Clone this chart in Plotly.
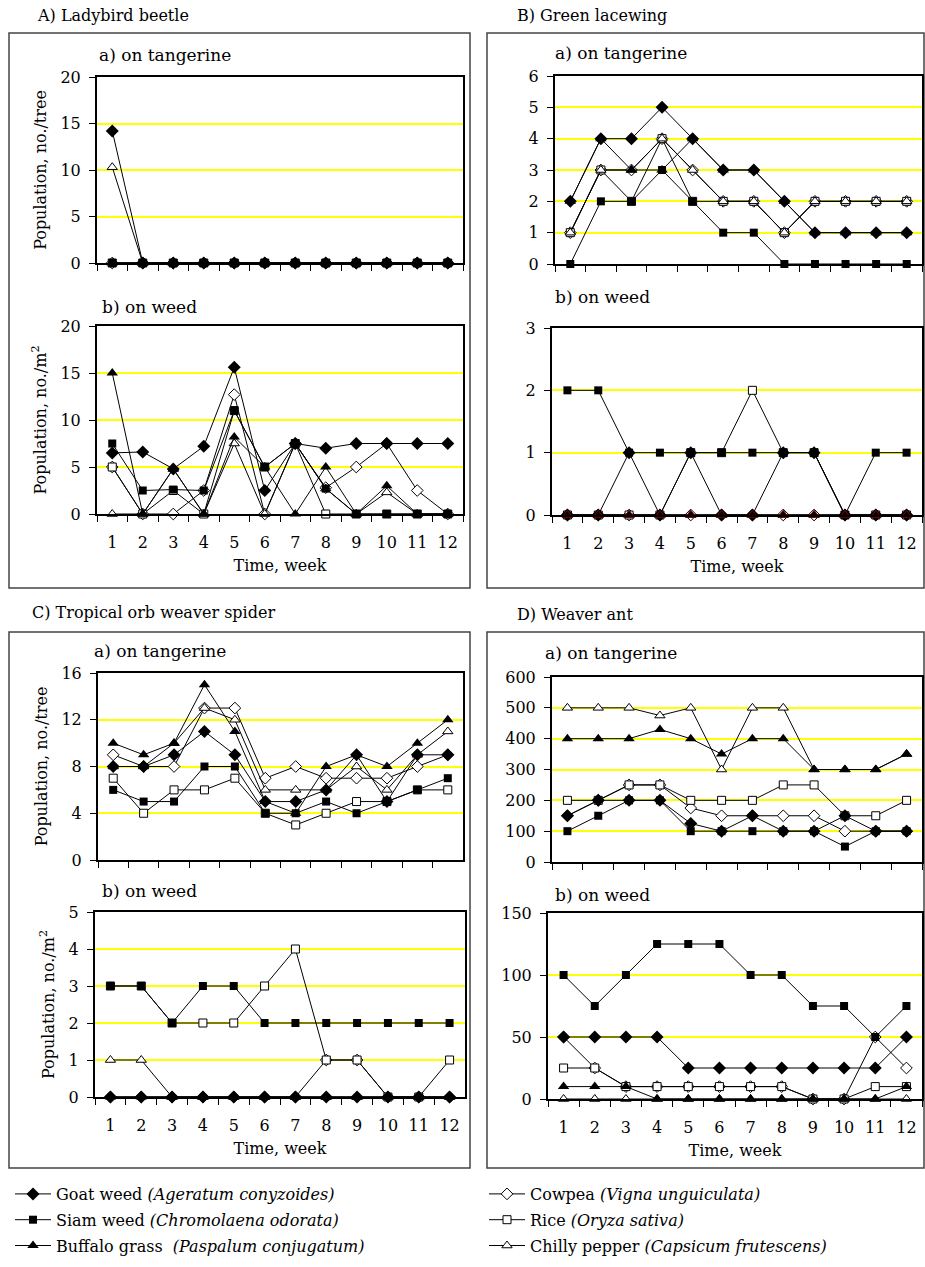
import plotly.graph_objects as go

W, H = 925, 1267

weeks = [str(i) for i in range(1, 13)]

series_names = [
    "Goat weed <i>(Ageratum conyzoides)</i>",
    "Siam weed <i>(Chromolaena odorata)</i>",
    "Buffalo grass  <i>(Paspalum conjugatum)</i>",
    "Cowpea <i>(Vigna unguiculata)</i>",
    "Rice <i>(Oryza sativa)</i>",
    "Chilly pepper <i>(Capsicum frutescens)</i>",
]

# ---- A) Ladybird beetle ----
ladybird_tangerine_goat    = [14.2, 0, 0, 0, 0, 0, 0, 0, 0, 0, 0, 0]
ladybird_tangerine_siam    = [0, 0, 0, 0, 0, 0, 0, 0, 0, 0, 0, 0]
ladybird_tangerine_buffalo = [0, 0, 0, 0, 0, 0, 0, 0, 0, 0, 0, 0]
ladybird_tangerine_cowpea  = [0, 0, 0, 0, 0, 0, 0, 0, 0, 0, 0, 0]
ladybird_tangerine_rice    = [0, 0, 0, 0, 0, 0, 0, 0, 0, 0, 0, 0]
ladybird_tangerine_chilly  = [10.3, 0, 0, 0, 0, 0, 0, 0, 0, 0, 0, 0]

ladybird_weed_goat    = [6.5, 6.6, 4.8, 7.2, 15.6, 2.5, 7.5, 7.0, 7.5, 7.5, 7.5, 7.5]
ladybird_weed_siam    = [7.5, 2.5, 2.6, 2.5, 11.0, 5.0, 7.5, 2.7, 0, 0, 0, 0]
ladybird_weed_buffalo = [15.0, 0, 4.8, 0, 8.2, 5.0, 0, 5.0, 0, 3.0, 0, 0]
ladybird_weed_cowpea  = [5.0, 0, 0, 2.5, 12.7, 0, 7.5, 2.8, 5.0, 7.5, 2.5, 0]
ladybird_weed_rice    = [5.0, 0, 2.5, 0, 11.0, 5.0, 7.5, 0, 0, 0, 0, 0]
ladybird_weed_chilly  = [0, 0, 4.8, 0, 7.5, 0, 7.5, 2.7, 0, 2.3, 0, 0]

# ---- B) Green lacewing ----
lacewing_tangerine_goat    = [2, 4, 4, 5, 4, 3, 3, 2, 1, 1, 1, 1]
lacewing_tangerine_siam    = [0, 2, 2, 3, 2, 1, 1, 0, 0, 0, 0, 0]
lacewing_tangerine_buffalo = [2, 4, 3, 3, 4, 3, 3, 2, 1, 1, 1, 1]
lacewing_tangerine_cowpea  = [1, 3, 3, 4, 3, 2, 2, 1, 2, 2, 2, 2]
lacewing_tangerine_rice    = [1, 3, 2, 4, 2, 2, 2, 1, 2, 2, 2, 2]
lacewing_tangerine_chilly  = [1, 3, 3, 4, 3, 2, 2, 1, 2, 2, 2, 2]

lacewing_weed_goat    = [0, 0, 1, 0, 1, 0, 0, 1, 1, 0, 0, 0]
lacewing_weed_siam    = [2, 2, 1, 1, 1, 1, 1, 1, 1, 0, 1, 1]
lacewing_weed_buffalo = [0, 0, 0, 0, 0, 0, 0, 0, 0, 0, 0, 0]
lacewing_weed_cowpea  = [0, 0, 0, 0, 0, 0, 0, 0, 0, 0, 0, 0]
lacewing_weed_rice    = [0, 0, 0, 0, 1, 1, 2, 1, 1, 0, 0, 0]
lacewing_weed_chilly  = [0, 0, 0, 0, 0, 0, 0, 0, 0, 0, 0, 0]

# ---- C) Tropical orb weaver spider ----
spider_tangerine_goat    = [8, 8, 9, 11, 9, 5, 5, 6, 9, 5, 9, 9]
spider_tangerine_siam    = [6, 5, 5, 8, 8, 4, 4, 5, 4, 5, 6, 7]
spider_tangerine_buffalo = [10, 9, 10, 15, 11, 5, 4, 8, 9, 8, 10, 12]
spider_tangerine_cowpea  = [9, 8, 8, 13, 13, 7, 8, 7, 7, 7, 8, 9]
spider_tangerine_rice    = [7, 4, 6, 6, 7, 4, 3, 4, 5, 5, 6, 6]
spider_tangerine_chilly  = [8, 8, 10, 13, 12, 6, 6, 6, 8, 6, 9, 11]

spider_weed_goat    = [0, 0, 0, 0, 0, 0, 0, 0, 0, 0, 0, 0]
spider_weed_siam    = [3, 3, 2, 3, 3, 2, 2, 2, 2, 2, 2, 2]
spider_weed_buffalo = [0, 0, 0, 0, 0, 0, 0, 0, 0, 0, 0, 0]
spider_weed_cowpea  = [0, 0, 0, 0, 0, 0, 0, 1, 1, 0, 0, 0]
spider_weed_rice    = [3, 3, 2, 2, 2, 3, 4, 1, 1, 0, 0, 1]
spider_weed_chilly  = [1, 1, 0, 0, 0, 0, 0, 0, 0, 0, 0, 0]

# ---- D) Weaver ant ----
ant_tangerine_goat    = [150, 200, 200, 200, 125, 100, 150, 100, 100, 150, 100, 100]
ant_tangerine_siam    = [100, 150, 200, 200, 100, 100, 100, 100, 100, 50, 100, 100]
ant_tangerine_buffalo = [400, 400, 400, 430, 400, 350, 400, 400, 300, 300, 300, 350]
ant_tangerine_cowpea  = [150, 200, 250, 250, 175, 150, 150, 150, 150, 100, 100, 100]
ant_tangerine_rice    = [200, 200, 250, 250, 200, 200, 200, 250, 250, 150, 150, 200]
ant_tangerine_chilly  = [500, 500, 500, 475, 500, 300, 500, 500, 300, 300, 300, 350]

ant_weed_goat    = [50, 50, 50, 50, 25, 25, 25, 25, 25, 25, 25, 50]
ant_weed_siam    = [100, 75, 100, 125, 125, 125, 100, 100, 75, 75, 50, 75]
ant_weed_buffalo = [10, 10, 10, 0, 0, 0, 0, 0, 0, 0, 0, 10]
ant_weed_cowpea  = [50, 25, 10, 10, 10, 10, 10, 10, 0, 0, 50, 25]
ant_weed_rice    = [25, 25, 10, 10, 10, 10, 10, 10, 0, 0, 10, 10]
ant_weed_chilly  = [0, 0, 0, 0, 0, 0, 0, 0, 0, 0, 0, 0]

FONT = "DejaVu Serif"
FS = 16

styles = [
    dict(symbol="diamond", size=10, color="black", line=dict(color="black", width=0)),
    dict(symbol="square", size=8, color="black", line=dict(color="black", width=0)),
    dict(symbol="triangle-up", size=10, color="black", line=dict(color="black", width=0)),
    dict(symbol="diamond", size=9, color="white", line=dict(color="black", width=1)),
    dict(symbol="square", size=8, color="white", line=dict(color="black", width=1)),
    dict(symbol="triangle-up", size=9, color="white", line=dict(color="black", width=1)),
]
legend_of = ["legend", "legend", "legend", "legend2", "legend2", "legend2"]
legend_rank = [1, 2, 3, 1, 2, 3]
draw_order = [3, 4, 5, 0, 1, 2]

panels = [
    dict(data=[ladybird_tangerine_goat, ladybird_tangerine_siam, ladybird_tangerine_buffalo,
               ladybird_tangerine_cowpea, ladybird_tangerine_rice, ladybird_tangerine_chilly],
         box=(97, 463, 77, 263), ymax=20, dtick=5, ytitle="Population, no./tree",
         xlabels=False, sub="a) on tangerine", subpos=(97, 55), order=[3, 4, 5, 0, 2, 1]),
    dict(data=[ladybird_weed_goat, ladybird_weed_siam, ladybird_weed_buffalo,
               ladybird_weed_cowpea, ladybird_weed_rice, ladybird_weed_chilly],
         box=(97, 463, 326, 514), ymax=20, dtick=5, ytitle="Population, no./m<sup>2</sup>",
         xlabels=True, sub="b) on weed", subpos=(100, 307)),
    dict(data=[lacewing_tangerine_goat, lacewing_tangerine_siam, lacewing_tangerine_buffalo,
               lacewing_tangerine_cowpea, lacewing_tangerine_rice, lacewing_tangerine_chilly],
         box=(555, 922, 76, 264), ymax=6, dtick=1, ytitle=None,
         xlabels=False, sub="a) on tangerine", subpos=(553, 53)),
    dict(data=[lacewing_weed_goat, lacewing_weed_siam, lacewing_weed_buffalo,
               lacewing_weed_cowpea, lacewing_weed_rice, lacewing_weed_chilly],
         box=(552, 922, 328, 515), ymax=3, dtick=1, ytitle=None,
         xlabels=True, sub="b) on weed", subpos=(553, 297)),
    dict(data=[spider_tangerine_goat, spider_tangerine_siam, spider_tangerine_buffalo,
               spider_tangerine_cowpea, spider_tangerine_rice, spider_tangerine_chilly],
         box=(98, 463, 673, 860), ymax=16, dtick=4, ytitle="Population, no./tree",
         xlabels=False, sub="a) on tangerine", subpos=(92, 651)),
    dict(data=[spider_weed_goat, spider_weed_siam, spider_weed_buffalo,
               spider_weed_cowpea, spider_weed_rice, spider_weed_chilly],
         box=(95, 465, 912, 1097), ymax=5, dtick=1, ytitle="Population, no./m<sup>2</sup>",
         xlabels=True, sub="b) on weed", subpos=(100, 891)),
    dict(data=[ant_tangerine_goat, ant_tangerine_siam, ant_tangerine_buffalo,
               ant_tangerine_cowpea, ant_tangerine_rice, ant_tangerine_chilly],
         box=(552, 922, 677, 862), ymax=600, dtick=100, ytitle=None,
         xlabels=False, sub="a) on tangerine", subpos=(543, 653)),
    dict(data=[ant_weed_goat, ant_weed_siam, ant_weed_buffalo,
               ant_weed_cowpea, ant_weed_rice, ant_weed_chilly],
         box=(548, 922, 913, 1099), ymax=150, dtick=50, ytitle=None,
         xlabels=True, sub="b) on weed", subpos=(553, 895)),
]

headers = [
    ("A) Ladybird beetle", 35, 15),
    ("B) Green lacewing", 515, 15),
    ("C) Tropical orb weaver spider", 30, 612),
    ("D) Weaver ant", 515, 615),
]

frames = [(9, 470, 33, 588), (487, 924, 33, 588), (9, 470, 632, 1168), (487, 924, 632, 1168)]


def px(x):
    return x / W


def py(y):
    return 1 - y / H


legend_common = dict(orientation="v", yanchor="top", xanchor="left",
                     itemwidth=36, font=dict(family=FONT, size=FS, color="black"),
                     bgcolor="rgba(0,0,0,0)", traceorder="grouped", tracegroupgap=2)

fig = go.Figure()
layout = dict(
    width=W, height=H, margin=dict(l=0, r=0, t=0, b=0, autoexpand=False),
    paper_bgcolor="white", plot_bgcolor="white",
    font=dict(family=FONT, size=FS, color="black"),
    showlegend=True,
    legend=dict(x=px(10), y=py(1177), **legend_common),
    legend2=dict(x=px(484), y=py(1177), **legend_common),
)
annotations = []
shapes = []

for i, p in enumerate(panels, start=1):
    xk = "xaxis" if i == 1 else f"xaxis{i}"
    yk = "yaxis" if i == 1 else f"yaxis{i}"
    xr = "x" if i == 1 else f"x{i}"
    yr = "y" if i == 1 else f"y{i}"
    x0, x1, y0, y1 = p["box"]
    order = p.get("order", draw_order)
    for s in order:
        st = dict(styles[s])
        st["line"] = dict(st["line"])
        if i == 4 and s == 2:
            st["line"] = dict(color="#8B0000", width=1)
            st["size"] = 9
        fig.add_trace(go.Scatter(
            x=weeks, y=p["data"][s], mode="lines+markers",
            name=series_names[s], legend=legend_of[s], legendrank=legend_rank[s],
            legendgroup=f"s{s}", showlegend=(i == 1),
            line=dict(color="black", width=1),
            marker=st, cliponaxis=False,
            xaxis=xr, yaxis=yr,
        ))
    xa = dict(
        domain=[px(x0), px(x1)], anchor=yr, type="category",
        categoryorder="array", categoryarray=weeks, range=[-0.5, 11.5],
        tickson="boundaries", ticks="outside", ticklen=6, tickwidth=1, tickcolor="black",
        showline=True, mirror=True, linewidth=2, linecolor="black",
        showgrid=False, zeroline=False, showticklabels=p["xlabels"],
        tickfont=dict(family=FONT, size=FS), ticklabelstandoff=13,
    )
    if p["xlabels"]:
        xa["title"] = dict(text="Time, week", font=dict(family=FONT, size=FS), standoff=9)
    ya = dict(
        domain=[py(y1), py(y0)], anchor=xr, range=[0, p["ymax"]], dtick=p["dtick"], tick0=0,
        ticks="outside", ticklen=6, tickwidth=1, tickcolor="black",
        showline=True, mirror=True, linewidth=2, linecolor="black",
        showgrid=True, gridcolor="#FFFF00", gridwidth=2, zeroline=False,
        tickfont=dict(family=FONT, size=FS), ticklabelstandoff=5,
    )
    if p["ytitle"]:
        ya["title"] = dict(text=p["ytitle"], font=dict(family=FONT, size=FS), standoff=10)
    layout[xk] = xa
    layout[yk] = ya
    sx, sy = p["subpos"]
    annotations.append(dict(text=p["sub"], x=px(sx), y=py(sy), xref="paper", yref="paper",
                            xanchor="left", yanchor="middle", showarrow=False,
                            font=dict(family=FONT, size=17)))

for text, hx, hy in headers:
    annotations.append(dict(text=text, x=px(hx), y=py(hy), xref="paper", yref="paper",
                            xanchor="left", yanchor="middle", showarrow=False,
                            font=dict(family=FONT, size=FS)))

for fx0, fx1, fy0, fy1 in frames:
    shapes.append(dict(type="rect", xref="paper", yref="paper",
                       x0=px(fx0), x1=px(fx1), y0=py(fy1), y1=py(fy0),
                       line=dict(color="#444444", width=1.5), layer="below"))

layout["annotations"] = annotations
layout["shapes"] = shapes
fig.update_layout(**layout)
fig.write_html("out.html", config={"displayModeBar": False},
               post_script="document.body.style.margin='0';document.body.style.overflow='hidden';")
